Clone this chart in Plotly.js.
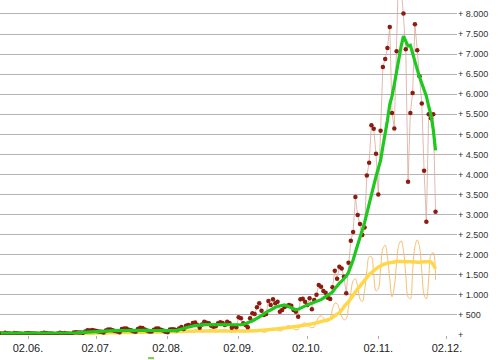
<!DOCTYPE html>
<html>
<head>
<meta charset="utf-8">
<script src="https://cdn.plot.ly/plotly-3.0.1.min.js"></script>
<style>html,body{margin:0;padding:0;background:#fff}#chart{width:500px;height:360px}</style>
</head>
<body>
<div id="chart"></div>
<script>
// first day of all series (one value per day)
var startDate = '2020-05-21';

// daily new values (dark red dots)
var dailyValues = [
40,30,55,45,35,25,50,45,40,30,20,45,
50,45,40,35,30,25,45,
55,50,40,35,30,20,40,
55,45,50,40,30,25,60,
70,65,60,55,85,120,110,
125,115,100,90,80,60,110,
135,140,120,100,90,70,150,
165,160,130,120,95,80,150,
180,175,140,110,90,85,130,
165,160,130,110,80,70,140,
145,140,120,160,200,150,230,
250,230,300,310,250,
180,260,330,306,291,230,207,215,290,316,300,249,331,300,182,220,192,441,416,291,250,192,416,540,523,690,789,605,498,523,847,747,889,789,830,581,623,700,722,747,730,623,581,456,889,904,830,747,913,640,872,1000,1245,1203,1096,1050,930,
896,1188,1601,1402,1701,1660,1452,1038,1800,2348,2565,3436,2988,2764,2490,2681,3976,4290,5229,5137,4514,3503,5087,6681,6880,7154,7677,5535,5147,7072,9400,8700,8010,7121,3817,5535,6033,7744,7097,6449,5769,4091,2821,5503,5400,5503,3070
];

// 7-day average (thick green)
var avgValues = [
50,50,48,47,46,45,45,44,43,42,42,42,
42,41,40,40,39,39,40,41,42,42,42,41,40,40,
42,43,44,45,46,48,52,56,60,64,68,72,78,82,
88,92,95,97,98,98,100,103,105,107,108,108,110,112,
115,117,118,118,117,116,115,116,118,118,117,115,113,112,
112,113,113,112,110,108,107,108,110,115,125,140,160,180,
200,215,224,235,245,250,255,260,262,262,258,255,252,250,
250,250,250,250,250,248,246,245,248,255,265,280,306,331,
350,380,410,440,480,530,570,600,623,660,690,710,722,735,
747,730,705,680,650,630,640,670,705,730,750,770,790,815,
840,860,880,920,960,990,
1020,1070,1150,1230,1290,1340,1400,1470,1560,1700,1870,2060,2250,2380,2580,2800,3030,3280,3550,3720,3950,4150,4350,4700,5000,5350,5750,5950,6250,6580,6880,7200,7450,7300,7200,7220,7000,6830,6620,6430,6250,6120,5950,5700,5480,5120,4600
];

// second series, daily (thin yellow)
var secondDaily = [
20,30,35,25,15,15,25,35,35,25,15,15,
25,35,35,25,15,15,25,38,38,28,18,18,28,40,
40,30,20,20,30,45,45,35,25,25,35,50,55,45,
30,30,45,65,65,50,35,35,50,70,72,55,40,40,
55,75,80,60,45,45,60,85,85,65,50,50,65,90,
90,70,55,55,70,95,95,75,60,60,80,110,115,90,
70,70,95,130,130,100,75,75,100,135,135,105,80,80,
100,135,140,110,80,75,95,130,130,100,75,70,95,125,
125,125,130,110,85,70,75,120,160,170,150,115,100,110,
170,220,230,200,150,130,140,220,290,300,260,200,180,200,
330,450,480,430,360,330,
420,650,790,780,650,470,380,400,700,1050,1350,1400,1200,900,830,1100,1600,1950,1950,1500,1100,1150,1650,2150,2240,1950,1400,950,1200,1800,2250,2350,2100,1500,950,900,1600,2200,2370,2200,1600,1000,900,1400,2000,2050,1370
];

// second series, average (thick yellow)
var secondAvg = [
20,20,21,21,22,22,23,23,24,24,25,25,
25,26,26,27,27,28,28,29,29,30,30,31,31,32,
32,33,34,35,36,37,38,39,40,41,42,43,44,45,
46,47,48,49,50,51,52,53,54,55,56,57,58,59,
60,61,62,63,64,65,66,67,68,69,70,71,72,73,
74,75,76,77,78,79,80,81,82,84,86,88,90,92,
94,95,96,97,98,99,100,100,100,100,100,100,100,100,
100,100,100,100,100,100,100,100,100,100,100,100,100,100,
102,105,108,112,116,121,126,131,137,143,149,155,161,167,
174,181,188,196,204,212,220,228,237,246,256,266,277,290,
305,320,335,350,365,382,
400,440,480,520,560,620,700,770,830,910,990,1070,1150,1220,1290,1360,1430,1500,1550,1600,1650,1690,1720,1750,1770,1790,1800,1810,1820,1830,1830,1830,1830,1830,1826,1826,1820,1820,1815,1815,1820,1825,1826,1826,1820,1750,1650
];

// axis ticks
var xTickVals = ['2020-06-02','2020-07-02','2020-08-02','2020-09-02','2020-10-02','2020-11-02','2020-12-02'];
var xTickText = ['02.06.','02.07.','02.08.','02.09.','02.10.','02.11.','02.12.'];
var yTickVals = [0,500,1000,1500,2000,2500,3000,3500,4000,4500,5000,5500,6000,6500,7000,7500,8000];
var yTickText = ['+','+ 500','+ 1.000','+ 1.500','+ 2.000','+ 2.500','+ 3.000','+ 3.500','+ 4.000','+ 4.500','+ 5.000','+ 5.500','+ 6.000','+ 6.500','+ 7.000','+ 7.500','+ 8.000'];

function buildDates(n){
  var out = [];
  var d0 = new Date(startDate + 'T00:00:00Z');
  for (var i = 0; i < n; i++) {
    var d = new Date(d0.getTime() + i*86400000);
    out.push(d.toISOString().slice(0,10));
  }
  return out;
}
var dates = buildDates(dailyValues.length);

var traces = [
  {x: dates, y: secondDaily, type: 'scatter', mode: 'lines',
   line: {color: '#f6bf72', width: 1, shape: 'spline', smoothing: 1}, hoverinfo: 'skip'},
  {x: dates, y: secondAvg, type: 'scatter', mode: 'lines',
   line: {color: '#ffd84a', width: 3.5, shape: 'spline'}, hoverinfo: 'skip'},
  {x: dates, y: dailyValues, type: 'scatter', mode: 'lines+markers',
   line: {color: '#d9a89a', width: 0.8},
   marker: {color: '#8c1c10', size: 4.5}, hoverinfo: 'skip'},
  {x: dates, y: avgValues, type: 'scatter', mode: 'lines',
   line: {color: '#1ec81e', width: 3.2}, hoverinfo: 'skip'}
];

var layout = {
  width: 500, height: 360,
  margin: {l: 0, r: 43, t: 0, b: 25, pad: 0},
  paper_bgcolor: '#fff', plot_bgcolor: '#fff',
  showlegend: false,
  xaxis: {
    type: 'date',
    range: ['2020-05-20 18:30', '2020-12-06 09:00'],
    tickmode: 'array', tickvals: xTickVals, ticktext: xTickText,
    showgrid: false, zeroline: false, showline: false,
    ticks: 'outside', ticklen: 3, tickcolor: '#aaaaaa', tickwidth: 1,
    tickfont: {family: 'Liberation Sans Narrow, Liberation Sans, Arial, sans-serif', size: 11, color: '#222'}
  },
  yaxis: {
    side: 'right',
    range: [0, 8348],
    tickmode: 'array', tickvals: yTickVals, ticktext: yTickText,
    showgrid: true, gridcolor: '#b4b4b4', gridwidth: 1,
    zeroline: false, showline: false, ticks: '',
    tickfont: {family: 'Liberation Sans, Arial, sans-serif', size: 9, color: '#333'}
  },
  shapes: [
    {type: 'line', xref: 'paper', yref: 'paper', x0: 0.324, x1: 0.337, y0: -0.069, y1: -0.069,
     line: {color: '#7ccc3c', width: 2}}
  ]
};

Plotly.newPlot('chart', traces, layout, {staticPlot: true, displayModeBar: false});
</script>
</body>
</html>
